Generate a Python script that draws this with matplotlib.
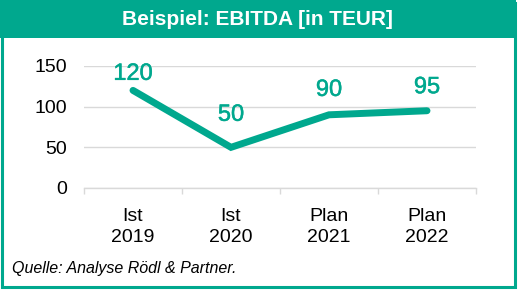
import matplotlib
matplotlib.use("Agg")
import matplotlib.pyplot as plt
import matplotlib.patheffects as pe
from matplotlib.patches import Rectangle

plt.rcParams["font.family"] = ["Liberation Sans", "DejaVu Sans"]

# Data
categories = ["Ist\n2019", "Ist\n2020", "Plan\n2021", "Plan\n2022"]
ebitda = [120, 50, 90, 95]
label_offsets = [4, 15.5, 10, 9]  # points above each marker (label placement)

teal = "#00A88E"
grid_grey = "#D9D9D9"

W, H = 524, 295
fig = plt.figure(figsize=(W / 100, H / 100), dpi=100)

# Frame and header bar
fig.patches.append(Rectangle((1.5 / W, 1 - 286.5 / H), 513 / W, 284 / H,
                             transform=fig.transFigure, fill=False,
                             edgecolor=teal, linewidth=2.2, zorder=0))
fig.patches.append(Rectangle((0, 1 - 38 / H), 516 / W, 38 / H,
                             transform=fig.transFigure, facecolor=teal,
                             edgecolor="none", zorder=0))
fig.text(257 / W, 1 - 19.5 / H, "Beispiel: EBITDA [in TEUR]", color="white",
         fontsize=15, fontweight="bold", ha="center", va="center")

# Plot area
ax = fig.add_axes([84 / W, 1 - 188 / H, 392 / W, 122 / H])
x = list(range(len(categories)))
ax.plot(x, ebitda, color=teal, linewidth=5, solid_capstyle="round",
        solid_joinstyle="miter", zorder=3)
for xi, v, off in zip(x, ebitda, label_offsets):
    ax.annotate(str(v), (xi, v), xytext=(0, off), textcoords="offset points",
                ha="center", va="bottom", color=teal, fontsize=17,
                path_effects=[pe.withStroke(linewidth=0.35, foreground=teal)])

ax.set_xlim(-0.5, len(categories) - 0.5)
ax.set_ylim(0, 150)
ax.set_yticks([0, 50, 100, 150])
ax.yaxis.grid(True, color=grid_grey, linewidth=1)
ax.set_axisbelow(True)
for s in ["top", "right", "left"]:
    ax.spines[s].set_visible(False)
ax.spines["bottom"].set_color(grid_grey)
ax.spines["bottom"].set_linewidth(1)

ax.set_xticks(x)
ax.set_xticklabels(categories, linespacing=1.33)
ax.set_xticks([i - 0.5 for i in range(len(categories) + 1)], minor=True)
ax.tick_params(axis="x", which="major", length=0, pad=14.5, labelsize=14)
ax.tick_params(axis="x", which="minor", length=4, color=grid_grey, width=1)
ax.tick_params(axis="y", length=0, pad=12, labelsize=14)

fig.text(12 / W, 1 - 269 / H, "Quelle: Analyse Rödl & Partner.", fontsize=11.5,
         fontstyle="italic", ha="left", va="center")

fig.savefig("out.png", dpi=100)
